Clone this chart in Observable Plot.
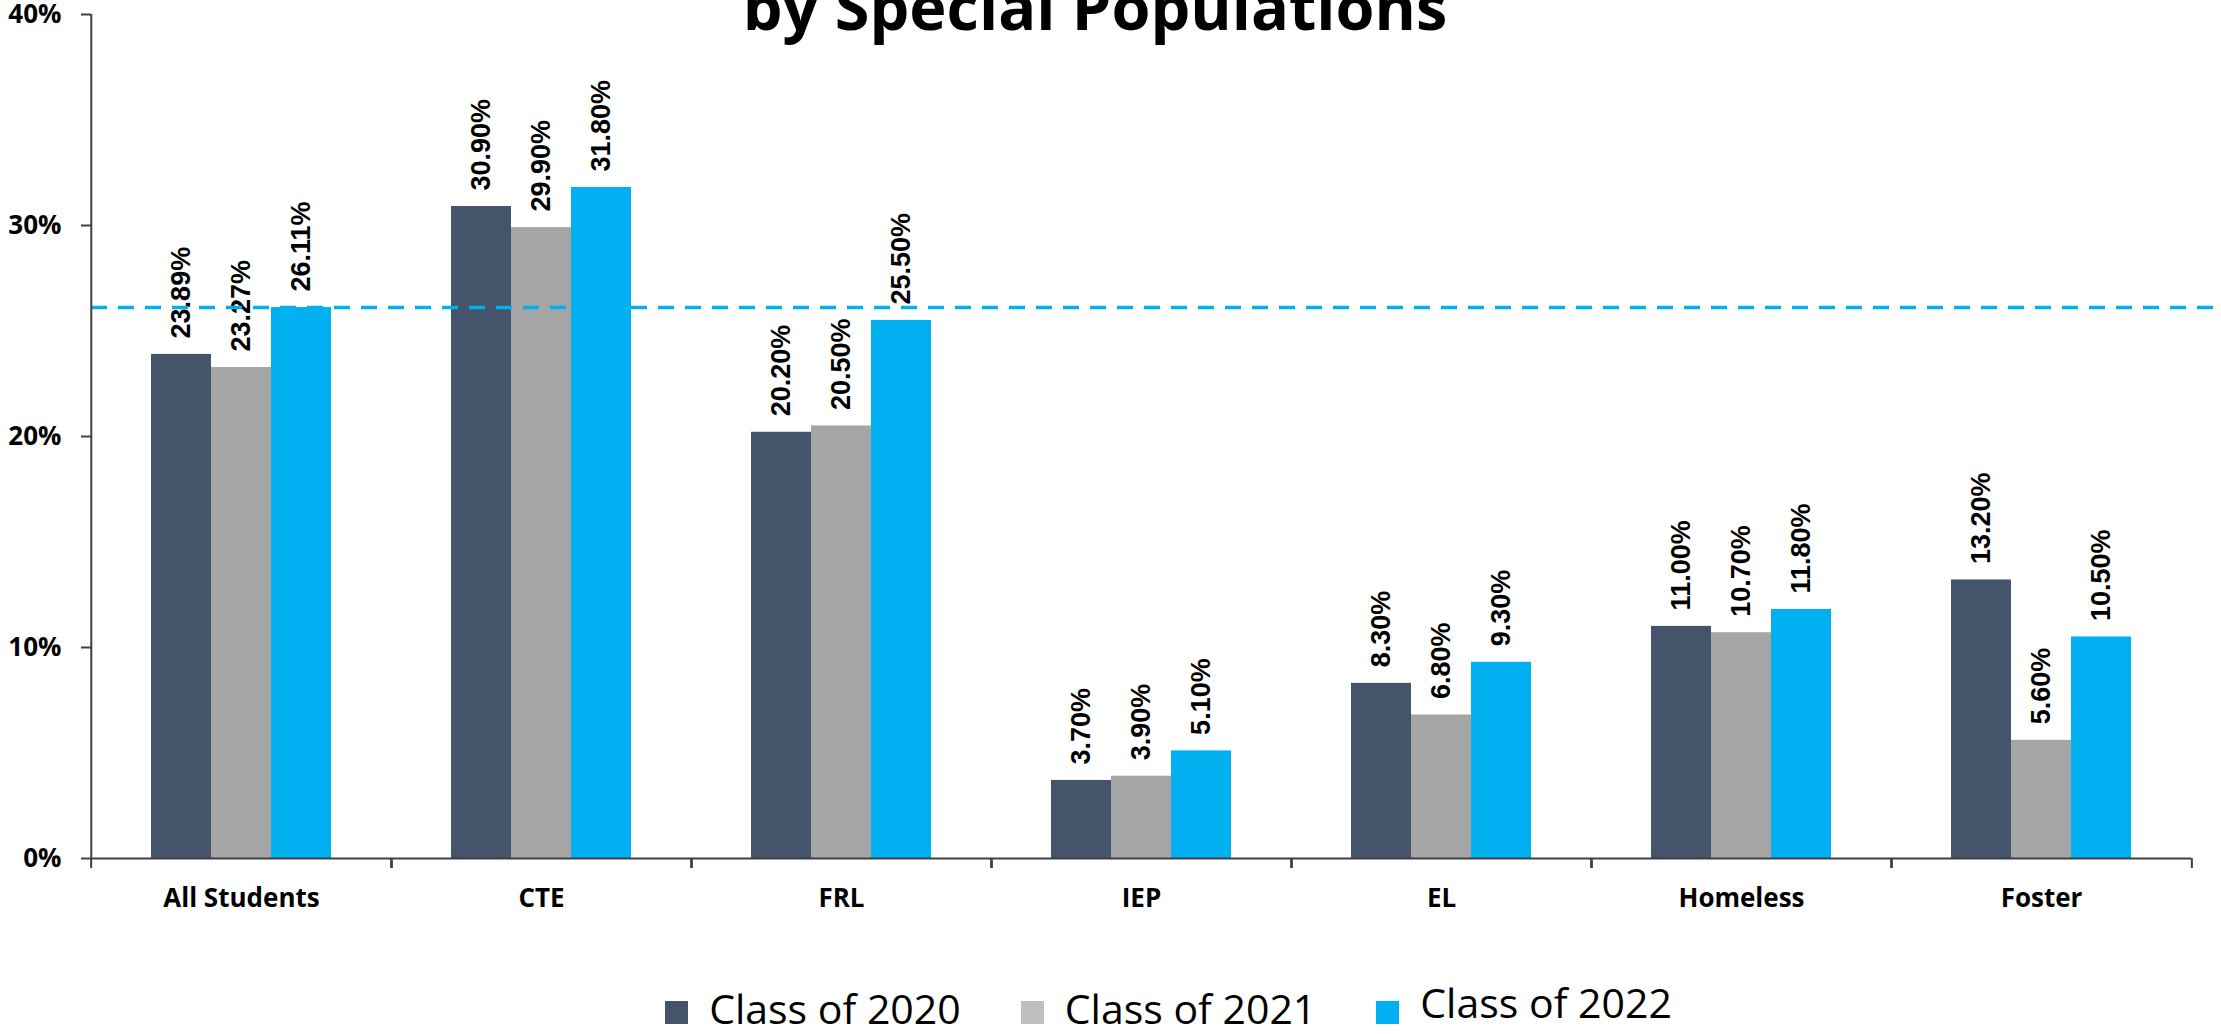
<!DOCTYPE html>
<html>
<head>
<meta charset="utf-8">
<script src="https://cdn.jsdelivr.net/npm/d3@7"></script>
<script src="https://cdn.jsdelivr.net/npm/@observablehq/plot@0.6"></script>
<style>
  html, body { margin: 0; padding: 0; background: #ffffff; overflow: hidden; }
  body { width: 2221px; height: 1034px; position: relative; }
  #title {
    position: absolute; top: -26px; left: 1095px; transform: translateX(-50%);
    font-family: "Open Sans", sans-serif; font-weight: 700; font-size: 63px; line-height: 1;
    white-space: nowrap; color: #000;
  }
  #legend {
    display: flex; justify-content: center; align-items: flex-start;
    padding-top: 28px; padding-left: 116px;
    font-family: "Open Sans", sans-serif; font-size: 41px; line-height: 1; color: #000;
  }
  .item { display: flex; align-items: flex-start; margin-right: 60px; }
  .item:last-child { margin-right: 0; }
  .sw { width: 23px; height: 23px; margin-top: 13px; margin-right: 21px; }
</style>
</head>
<body>
<div id="title">by Special Populations</div>
<div id="chart"></div>
<div id="legend"></div>
<script>
// ---- data ----
const categories = ["All Students", "CTE", "FRL", "IEP", "EL", "Homeless", "Foster"];
const seriesNames = ["Class of 2020", "Class of 2021", "Class of 2022"];
const class2020 = [23.89, 30.90, 20.20, 3.70, 8.30, 11.00, 13.20];
const class2021 = [23.27, 29.90, 20.50, 3.90, 6.80, 10.70, 5.60];
const class2022 = [26.11, 31.80, 25.50, 5.10, 9.30, 11.80, 10.50];
const yTicks = [0, 10, 20, 30, 40];
const seriesColors = ["#44546A", "#A5A5A5", "#00B0F0"];
const legendColors = ["#44546A", "#BFBFBF", "#00B0F0"];
const referenceValue = class2022[0]; // dashed reference line (All Students, Class of 2022)

const seriesValues = [class2020, class2021, class2022];
const rows = categories.flatMap((c, i) =>
  seriesNames.map((s, j) => ({category: c, series: s, value: seriesValues[j][i]}))
);

// ---- layout ----
const W = 2221, H = 960, mL = 88, mR = 28, mT = 14, mB = 102;
const bandW = (W - mL - mR) / categories.length;
const step = bandW / 5;
const axisColor = "#404040";

const chart = Plot.plot({
  width: W, height: H,
  marginLeft: mL, marginRight: mR, marginTop: mT, marginBottom: mB,
  style: {fontFamily: "Open Sans", background: "#ffffff", overflow: "visible"},
  fx: {domain: categories, padding: 0, label: null},
  x: {domain: seriesNames, paddingInner: 0, paddingOuter: 1, axis: null},
  y: {domain: [0, 40], label: null},
  color: {domain: seriesNames, range: seriesColors},
  marks: [
    Plot.barY(rows, {fx: "category", x: "series", y: "value", fill: "series"}),
    Plot.text(rows, {
      fx: "category", x: "series", y: "value",
      text: d => d.value.toFixed(2) + "%",
      rotate: -90, textAnchor: "start", dy: -16,
      fontFamily: "Liberation Sans", fontWeight: "bold", fontSize: 27, fill: "#000"
    }),
    Plot.ruleY([0], {stroke: axisColor, strokeWidth: 2}),
    Plot.ruleY([{category: categories[0], v: referenceValue}], {
      fx: "category", y: "v", stroke: "#00B0F0", strokeWidth: 3.5,
      strokeDasharray: "16,11", insetRight: -(W - mL - bandW)
    }),
    Plot.ruleX([{category: categories[0], s: seriesNames[0]}], {
      fx: "category", x: "s", y1: 0, y2: 40, dx: -1.5 * step,
      stroke: axisColor, strokeWidth: 2
    }),
    Plot.axisY({
      ticks: yTicks, tickFormat: d => d + "%", tickSize: 10, tickPadding: 20,
      fontSize: 26, fontWeight: "bold", fontFamily: "Open Sans",
      stroke: axisColor, strokeWidth: 2, fill: "#000", label: null
    }),
    Plot.axisFx({
      anchor: "bottom", tickSize: 0, tickPadding: 30,
      fontSize: 26, fontWeight: "bold", fontFamily: "Open Sans", fill: "#000", label: null
    }),
    Plot.axisFx({anchor: "bottom", tickSize: 10, tickFormat: () => "", dx: -bandW / 2,
      stroke: axisColor, strokeWidth: 2, label: null}),
    Plot.axisFx({anchor: "bottom", tickSize: 10, tickFormat: () => "", dx: bandW / 2,
      stroke: axisColor, strokeWidth: 2, label: null})
  ]
});
document.getElementById("chart").appendChild(chart);

// ---- legend ----
const legend = document.getElementById("legend");
seriesNames.forEach((s, j) => {
  const item = document.createElement("div");
  item.className = "item";
  const sw = document.createElement("div");
  sw.className = "sw";
  sw.style.background = legendColors[j];
  const label = document.createElement("span");
  label.textContent = s;
  if (j === 2) label.style.transform = "translateY(-6px)";
  item.appendChild(sw);
  item.appendChild(label);
  legend.appendChild(item);
});
</script>
</body>
</html>
